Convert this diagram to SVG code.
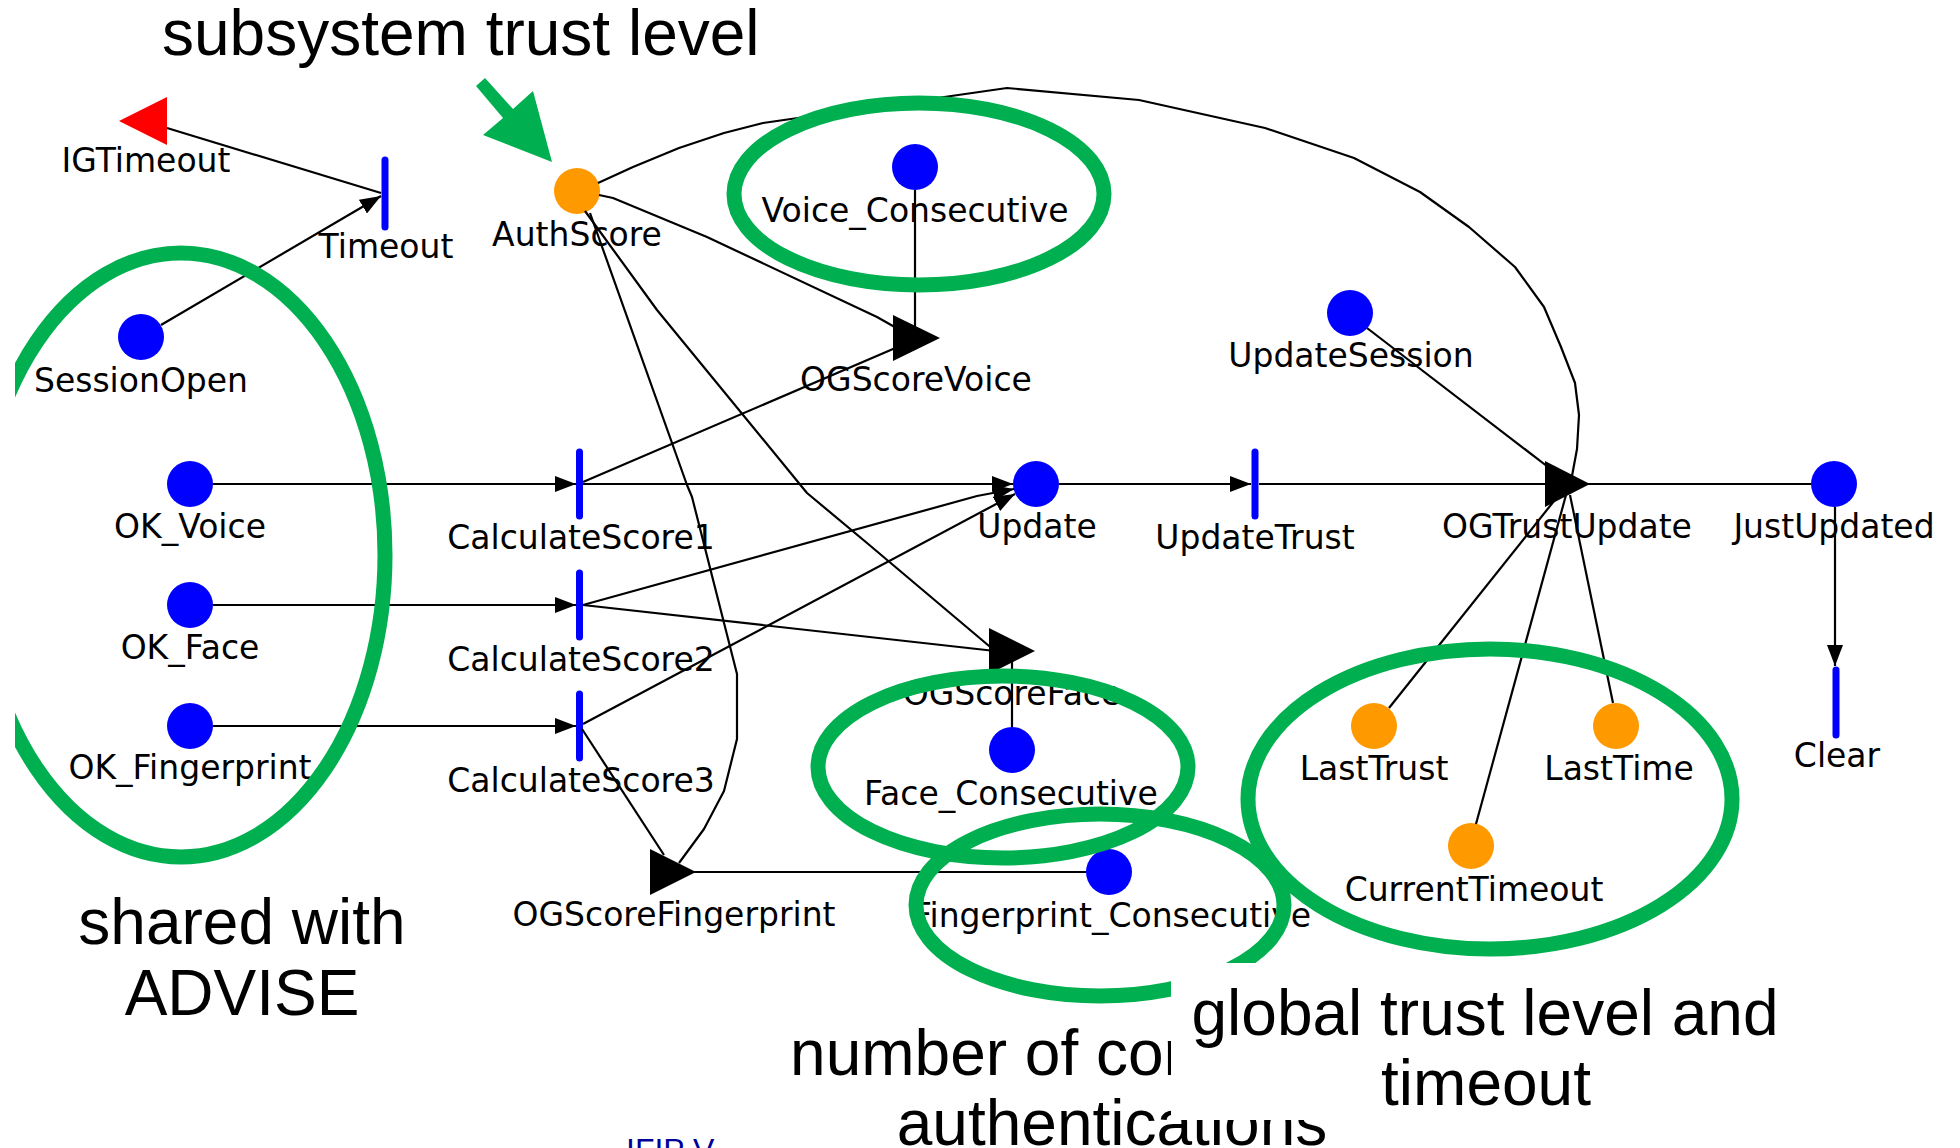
<svg xmlns="http://www.w3.org/2000/svg" width="1960" height="1148" viewBox="0 0 1960 1148">
  <style>
    .lbl { font-family: "DejaVu Sans", "Liberation Sans", sans-serif; font-size: 33px; fill: #000; text-anchor: middle; }
    .note { font-family: "Liberation Sans", Arial, sans-serif; font-size: 64px; fill: #000; text-anchor: middle; }
    .place { fill: #0000FF; }
    .ext { fill: #FF9900; }
    .act { stroke: #0000FF; stroke-width: 7; stroke-linecap: round; }
    .gate { fill: #000; }
    .arc { fill: none; stroke: #000; stroke-width: 2.2; stroke-linejoin: round; }
    .arr { marker-end: url(#head); }
    .ring { fill: none; stroke: #00B050; stroke-width: 15; }
  </style>
  <defs>
    <marker id="head" markerUnits="userSpaceOnUse" markerWidth="21" markerHeight="16" refX="21" refY="8" orient="auto">
      <path d="M0,0 L21,8 L0,16 Z" fill="#000"/>
    </marker>
    <clipPath id="leftcut">
      <rect x="15" y="0" width="1945" height="1148"/>
    </clipPath>
  </defs>
  <rect width="1960" height="1148" fill="#fff"/>

  <!-- nodes -->
  <g id="IGTimeout">
    <polygon points="119,121 167,97 167,145" fill="#FF0000"/>
    <text class="lbl" x="146" y="172">IGTimeout</text>
  </g>
  <g id="Timeout">
    <line class="act" x1="385" y1="160" x2="385" y2="227"/>
    <text class="lbl" x="386" y="258">Timeout</text>
  </g>
  <g id="SessionOpen">
    <circle class="place" cx="141" cy="337" r="23"/>
    <text class="lbl" x="141" y="392">SessionOpen</text>
  </g>
  <g id="AuthScore">
    <circle class="ext" cx="577" cy="191" r="23"/>
    <text class="lbl" x="577" y="246">AuthScore</text>
  </g>
  <g id="Voice_Consecutive">
    <circle class="place" cx="915" cy="167" r="23"/>
    <text class="lbl" x="915" y="222">Voice_Consecutive</text>
  </g>
  <g id="OGScoreVoice">
    <polygon class="gate" points="893,315 940,338 893,361"/>
    <text class="lbl" x="916" y="391">OGScoreVoice</text>
  </g>
  <g id="UpdateSession">
    <circle class="place" cx="1350" cy="313" r="23"/>
    <text class="lbl" x="1351" y="367">UpdateSession</text>
  </g>
  <g id="OK_Voice">
    <circle class="place" cx="190" cy="484" r="23"/>
    <text class="lbl" x="190" y="538">OK_Voice</text>
  </g>
  <g id="CalculateScore1">
    <line class="act" x1="579.5" y1="452" x2="579.5" y2="516"/>
    <text class="lbl" x="581" y="549">CalculateScore1</text>
  </g>
  <g id="Update">
    <circle class="place" cx="1036" cy="484" r="23"/>
    <text class="lbl" x="1037" y="538">Update</text>
  </g>
  <g id="UpdateTrust">
    <line class="act" x1="1255" y1="452" x2="1255" y2="516"/>
    <text class="lbl" x="1255" y="549">UpdateTrust</text>
  </g>
  <g id="OGTrustUpdate">
    <polygon class="gate" points="1545,461 1590,484 1545,507"/>
    <text class="lbl" x="1567" y="538">OGTrustUpdate</text>
  </g>
  <g id="JustUpdated">
    <circle class="place" cx="1834" cy="484" r="23"/>
    <text class="lbl" x="1834" y="538">JustUpdated</text>
  </g>
  <g id="OK_Face">
    <circle class="place" cx="190" cy="605" r="23"/>
    <text class="lbl" x="190" y="659">OK_Face</text>
  </g>
  <g id="CalculateScore2">
    <line class="act" x1="579.5" y1="573" x2="579.5" y2="637"/>
    <text class="lbl" x="581" y="671">CalculateScore2</text>
  </g>
  <g id="OGScoreFace">
    <polygon class="gate" points="989,628 1035,651 989,674"/>
    <text class="lbl" x="1012" y="705">OGScoreFace</text>
  </g>
  <g id="Face_Consecutive">
    <circle class="place" cx="1012" cy="750" r="23"/>
    <text class="lbl" x="1011" y="805">Face_Consecutive</text>
  </g>
  <g id="OK_Fingerprint">
    <circle class="place" cx="190" cy="726" r="23"/>
    <text class="lbl" x="190" y="779">OK_Fingerprint</text>
  </g>
  <g id="CalculateScore3">
    <line class="act" x1="579.5" y1="694" x2="579.5" y2="758"/>
    <text class="lbl" x="581" y="792">CalculateScore3</text>
  </g>
  <g id="OGScoreFingerprint">
    <polygon class="gate" points="650,849 696,872 650,895"/>
    <text class="lbl" x="674" y="926">OGScoreFingerprint</text>
  </g>
  <g id="Fingerprint_Consecutive">
    <circle class="place" cx="1109" cy="872" r="23"/>
    <text class="lbl" x="1112" y="927">Fingerprint_Consecutive</text>
  </g>
  <g id="LastTrust">
    <circle class="ext" cx="1374" cy="726" r="23"/>
    <text class="lbl" x="1374" y="780">LastTrust</text>
  </g>
  <g id="LastTime">
    <circle class="ext" cx="1616" cy="726" r="23"/>
    <text class="lbl" x="1619" y="780">LastTime</text>
  </g>
  <g id="CurrentTimeout">
    <circle class="ext" cx="1471" cy="846" r="23"/>
    <text class="lbl" x="1474" y="901">CurrentTimeout</text>
  </g>
  <g id="Clear">
    <line class="act" x1="1836" y1="670" x2="1836" y2="735"/>
    <text class="lbl" x="1837" y="767">Clear</text>
  </g>

  <!-- connectors -->
  <g id="connectors">
    <path class="arc" d="M381,193 L167,128"/>
    <path class="arc arr" d="M161,325 L381,196"/>
    <path class="arc arr" d="M213,484 L576,484"/>
    <path class="arc arr" d="M213,605 L576,605"/>
    <path class="arc arr" d="M213,726 L576,726"/>
    <path class="arc arr" d="M583,484 L1013,484"/>
    <path class="arc arr" d="M583,605 L977,496 L1014,489"/>
    <path class="arc arr" d="M583,724 L1015,494"/>
    <path class="arc" d="M583,482 L900,346"/>
    <path class="arc" d="M599,195 L613,198 L707,237 L877,317 L900,330"/>
    <path class="arc" d="M915,190 L915,330"/>
    <path class="arc" d="M585,211 L657,310 L807,493 L867,543 L995,651"/>
    <path class="arc" d="M590,213 L687,485 L692,497 L737,674 L737,739 L724,791 L704,829 L679,863"/>
    <path class="arc" d="M583,605 L995,651"/>
    <path class="arc" d="M1012,727 L1012,660"/>
    <path class="arc" d="M582,729 L664,855"/>
    <path class="arc" d="M1086,872 L690,872"/>
    <path class="arc" d="M598,183 L633,167 L679,148 L724,133 L763,123 L1007,88 L1139,100 L1265,128 L1354,158 L1420,192 L1469,227 L1515,267 L1544,307 L1561,347 L1575,383 L1579,415 L1577,449 L1572,476"/>
    <path class="arc arr" d="M1059,484 L1251,484"/>
    <path class="arc" d="M1259,484 L1550,484"/>
    <path class="arc" d="M1588,484 L1811,484"/>
    <path class="arc arr" d="M1835,507 L1835,666"/>
    <path class="arc" d="M1367,328 L1552,470"/>
    <path class="arc" d="M1389,708 L1558,496"/>
    <path class="arc" d="M1613,703 L1570,495"/>
    <path class="arc" d="M1476,824 L1566,495"/>
  </g>

  <!-- highlight rings -->
  <g id="rings">
    <ellipse class="ring" cx="919" cy="194" rx="185" ry="91"/>
    <ellipse class="ring" cx="181" cy="555" rx="204" ry="302" clip-path="url(#leftcut)"/>
    <ellipse class="ring" cx="1003" cy="767" rx="185" ry="91"/>
    <ellipse class="ring" cx="1100" cy="905" rx="184" ry="91"/>
    <ellipse class="ring" cx="1490" cy="799" rx="242" ry="150"/>
  </g>

  <!-- annotations -->
  <g id="annotations">
    <text class="note" x="162" y="55" style="text-anchor:start">subsystem trust level</text>
    <polygon points="476,86 485,78 513,109 533,91 552,162 483,135 503,118" fill="#00B050"/>
    <text class="note" x="242" y="944">shared with</text>
    <text class="note" x="242" y="1015">ADVISE</text>
    <text class="note" x="1112" y="1075">number of consecutive</text>
    <text class="note" x="1112" y="1145">authentications</text>
    <rect x="1171" y="963" width="630" height="157" fill="#fff"/>
    <text class="note" x="1485" y="1035">global trust level and</text>
    <text class="note" x="1486" y="1105">timeout</text>
    <text x="626" y="1161" font-family="Liberation Sans, Arial, sans-serif" font-size="32" fill="#000099">IFIP V</text>
  </g>
</svg>
